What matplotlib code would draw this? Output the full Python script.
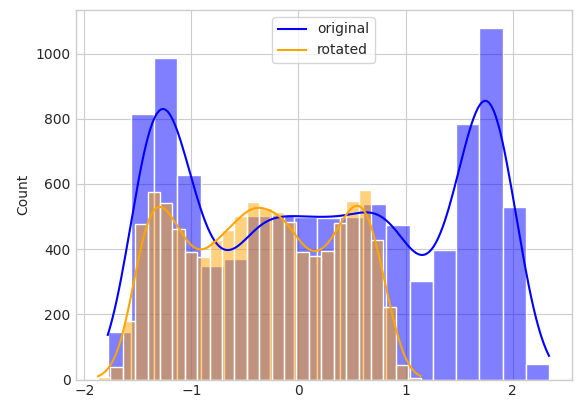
import matplotlib
matplotlib.use("Agg")
import matplotlib.pyplot as plt
import numpy as np
from matplotlib.colors import to_rgba

# value range covered by each histogram
orig_range = (-1.781, 2.340)
rot_range = (-1.872, 1.140)

# bar heights, left to right
orig_counts = [145, 815, 987, 628, 348, 369, 502, 505, 500, 497,
               500, 540, 475, 302, 398, 785, 1080, 529, 49]
rot_counts = [8, 39, 179, 477, 574, 541, 461, 391, 376, 429, 459, 502, 545,
              525, 513, 482, 390, 379, 393, 480, 549, 582, 428, 221, 46, 6]

labels = ["original", "rotated"]
colors = ["blue", "orange"]

# seaborn "whitegrid" look without seaborn
plt.rcParams.update({
    "axes.facecolor": "white",
    "axes.edgecolor": ".8",
    "axes.grid": True,
    "axes.axisbelow": True,
    "grid.color": ".8",
    "text.color": ".15",
    "axes.labelcolor": ".15",
    "xtick.color": ".15",
    "ytick.color": ".15",
    "xtick.major.size": 0,
    "ytick.major.size": 0,
    "font.family": ["DejaVu Sans"],
})


def kde_line(edges, counts, gridsize=200):
    # gaussian kde of the binned data (Scott bandwidth), scaled to counts;
    # the spread already added by binning is taken out of the bandwidth
    centers = (edges[:-1] + edges[1:]) / 2
    binw = edges[1] - edges[0]
    w = np.asarray(counts, dtype=float)
    n = w.sum()
    mean = np.sum(w * centers) / n
    std = np.sqrt(np.sum(w * (centers - mean) ** 2) / n)
    bw = std * n ** (-1 / 5)
    bw = np.sqrt(bw ** 2 - binw ** 2 / 12)
    xs = np.linspace(edges[0], edges[-1], gridsize)
    z = (xs[:, None] - centers[None, :]) / bw
    dens = (w[None, :] * np.exp(-0.5 * z ** 2)).sum(axis=1) / (n * bw * np.sqrt(2 * np.pi))
    return xs, dens * n * binw


fig = plt.figure(figsize=(5.8, 4.13), dpi=100)
ax = fig.add_axes([0.1302, 0.0811, 0.8552, 0.8947])

for rng, counts, label, color in zip([orig_range, rot_range], [orig_counts, rot_counts], labels, colors):
    edges = np.linspace(rng[0], rng[1], len(counts) + 1)
    ax.bar(edges[:-1], counts, width=np.diff(edges), align="edge",
           facecolor=to_rgba(color, 0.5), edgecolor="white", linewidth=1)
    xs, ys = kde_line(edges, counts)
    ax.plot(xs, ys, color=color, linewidth=1.5, label=label)

ax.set_ylabel("Count")
ax.legend(loc="upper center")
for spine in ax.spines.values():
    spine.set_linewidth(1.0)

fig.savefig("out.png", dpi=100)
